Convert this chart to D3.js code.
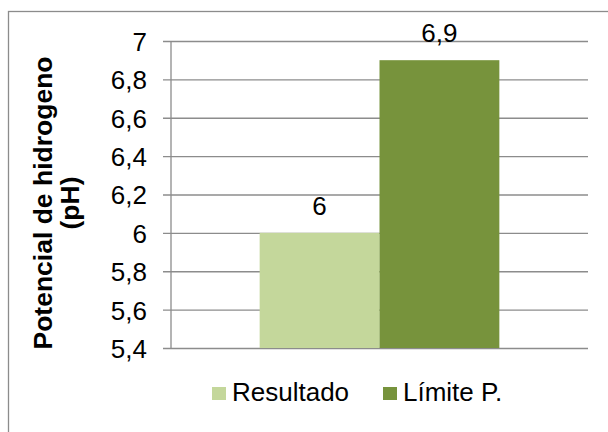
<!DOCTYPE html>
<html>
<head>
<meta charset="utf-8">
<script src="https://cdn.jsdelivr.net/npm/d3@7"></script>
<style>
  html, body { margin: 0; padding: 0; background: #fff; }
  svg { display: block; }
  text { font-family: "Liberation Sans", Arial, sans-serif; fill: #000; }
</style>
</head>
<body>
<svg id="chart" width="608" height="432"></svg>
<script>
// Single category, two series
const categories = [""];
const seriesNames = ["Resultado", "Límite P."];
const seriesValues = [6, 6.9];
const seriesColors = ["#c4d79b", "#77933c"];
const tickValues = [5.4, 5.6, 5.8, 6, 6.2, 6.4, 6.6, 6.8, 7];
const yTitleLines = ["Potencial de hidrogeno", "(pH)"];

const svg = d3.select("#chart");
const plot = { left: 171, right: 588, top: 41, bottom: 348 };
const fmt = v => String(+v.toFixed(2)).replace(".", ",");
const FS = "26px";

// Chart border (runs off the right and bottom of the canvas)
svg.append("rect")
  .attr("x", 8.5).attr("y", 11.5)
  .attr("width", 700).attr("height", 500)
  .attr("fill", "#fff")
  .attr("stroke", "#8c8c8c").attr("stroke-width", 1.3);

const y = d3.scaleLinear().domain([5.4, 7]).range([plot.bottom, plot.top]);
const x0 = d3.scaleBand().domain(categories).range([plot.left, plot.right]).padding(0.27);
const x1 = d3.scaleBand().domain(seriesNames).range([0, x0.bandwidth()]);

// Gridlines + tick marks
const yAxis = d3.axisLeft(y)
  .tickValues(tickValues)
  .tickSize(-(plot.right - plot.left) - 8)
  .tickPadding(0)
  .tickFormat(fmt);

const gAxis = svg.append("g")
  .attr("transform", `translate(${plot.right},0)`);
gAxis.call(yAxis);
gAxis.select(".domain").remove();
gAxis.selectAll(".tick line")
  .attr("x1", 0)
  .attr("x2", -(plot.right - plot.left) - 8)
  .attr("stroke", "#8c8c8c").attr("stroke-width", 1.3);
gAxis.selectAll(".tick text")
  .attr("x", -(plot.right - plot.left) - 24)
  .attr("dy", "0.36em")
  .attr("text-anchor", "end")
  .style("font-size", FS)
  .style("font-family", "'Liberation Sans', Arial, sans-serif")
  .attr("fill", "#000");

// Bars
const bars = seriesNames.map((name, i) => ({ name, value: seriesValues[i], color: seriesColors[i] }));
const g = svg.append("g").attr("transform", `translate(${x0(categories[0])},0)`);
g.selectAll("rect.bar").data(bars).join("rect")
  .attr("class", "bar")
  .attr("x", d => x1(d.name))
  .attr("width", x1.bandwidth())
  .attr("y", d => y(d.value))
  .attr("height", d => y(5.4) - y(d.value))
  .attr("fill", d => d.color);

// Vertical axis line
svg.append("line")
  .attr("x1", plot.left).attr("x2", plot.left)
  .attr("y1", plot.top).attr("y2", plot.bottom)
  .attr("stroke", "#8c8c8c").attr("stroke-width", 1.3);

// Value labels
g.selectAll("text.val").data(bars).join("text")
  .attr("class", "val")
  .attr("x", d => x1(d.name) + x1.bandwidth() / 2)
  .attr("y", d => y(d.value) - 18)
  .attr("text-anchor", "middle")
  .style("font-size", FS)
  .text(d => fmt(d.value));

// Y-axis title
const title = svg.append("text")
  .attr("transform", "translate(0,203) rotate(-90)")
  .attr("text-anchor", "middle")
  .style("font-size", "26.5px")
  .style("font-weight", "bold");
title.selectAll("tspan").data(yTitleLines).join("tspan")
  .attr("x", 0)
  .attr("y", (d, i) => 52 + i * 27)
  .text(d => d);

// Legend
const legendX = [212, 383];
const lg = svg.append("g");
bars.forEach((d, i) => {
  lg.append("rect")
    .attr("x", legendX[i]).attr("y", 387)
    .attr("width", 14).attr("height", 13)
    .attr("fill", d.color);
  lg.append("text")
    .attr("x", legendX[i] + 20).attr("y", 401)
    .style("font-size", FS)
    .text(d.name);
});
</script>
</body>
</html>
